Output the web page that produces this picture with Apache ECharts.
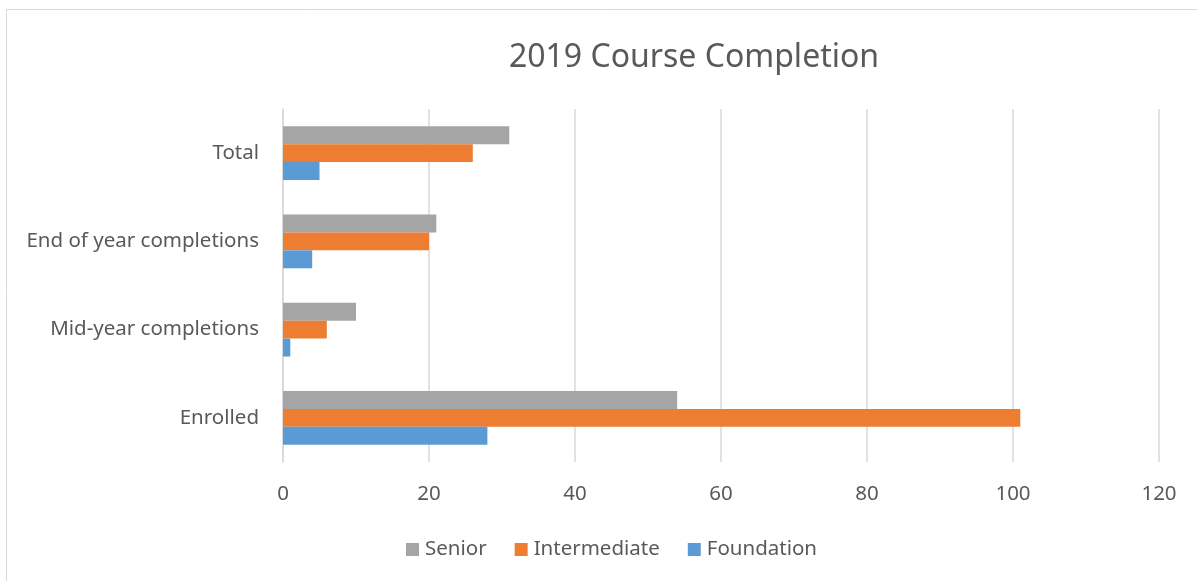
<!DOCTYPE html>
<html><head><meta charset="utf-8">
<script src="https://cdn.jsdelivr.net/npm/echarts@6/dist/echarts.min.js"></script>
<style>html,body{margin:0;padding:0;background:#fff}#c{width:1197px;height:581px}</style>
</head><body><div id="c"></div>
<script>
const categories = ['Enrolled', 'Mid-year completions', 'End of year completions', 'Total'];
const foundation = [28, 1, 4, 5];
const intermediate = [101, 6, 20, 26];
const senior = [54, 10, 21, 31];
const xTicks = [0, 20, 40, 60, 80, 100, 120];

const FONT = 'Noto Sans';
const TXT = '#595959';
const chart = echarts.init(document.getElementById('c'));
chart.setOption({
  animation: false,
  textStyle: {fontFamily: FONT},
  graphic: [{type: 'rect', shape: {x: 6.5, y: 9.5, width: 1300, height: 700},
    style: {fill: 'none', stroke: '#d9d9d9', lineWidth: 1}, silent: true}],
  title: {text: '2019 Course Completion', left: 689, top: 37, textAlign: 'center',
    textStyle: {fontFamily: FONT, fontSize: 32, fontWeight: 'normal', color: TXT}},
  legend: {data: ['Senior', 'Intermediate', 'Foundation'], left: 406, top: 539, padding: 0,
    itemWidth: 13, itemHeight: 13, itemGap: 28, icon: 'rect',
    textStyle: {fontFamily: FONT, fontSize: 20.5, color: TXT, padding: [0, 0, 0, 1]}},
  grid: {left: 283, right: 38, top: 109, bottom: 119, containLabel: false},
  xAxis: {type: 'value', min: xTicks[0], max: xTicks[xTicks.length - 1], interval: 20,
    axisLine: {show: false}, axisTick: {show: false},
    splitLine: {lineStyle: {color: '#d9d9d9', width: 1.5}},
    axisLabel: {fontFamily: FONT, fontSize: 20.5, color: TXT, margin: 22}},
  yAxis: {type: 'category', data: categories,
    axisLine: {show: true, lineStyle: {color: '#d9d9d9', width: 1.5}}, axisTick: {show: false},
    axisLabel: {fontFamily: FONT, fontSize: 20.5, color: TXT, margin: 24}},
  series: [
    {name: 'Senior', type: 'bar', data: senior, itemStyle: {color: '#a5a5a5'}, barGap: '0%', barCategoryGap: '39%'},
    {name: 'Intermediate', type: 'bar', data: intermediate, itemStyle: {color: '#ed7d31'}, barGap: '0%', barCategoryGap: '39%'},
    {name: 'Foundation', type: 'bar', data: foundation, itemStyle: {color: '#5b9bd5'}, barGap: '0%', barCategoryGap: '39%'}
  ]
});
</script></body></html>
